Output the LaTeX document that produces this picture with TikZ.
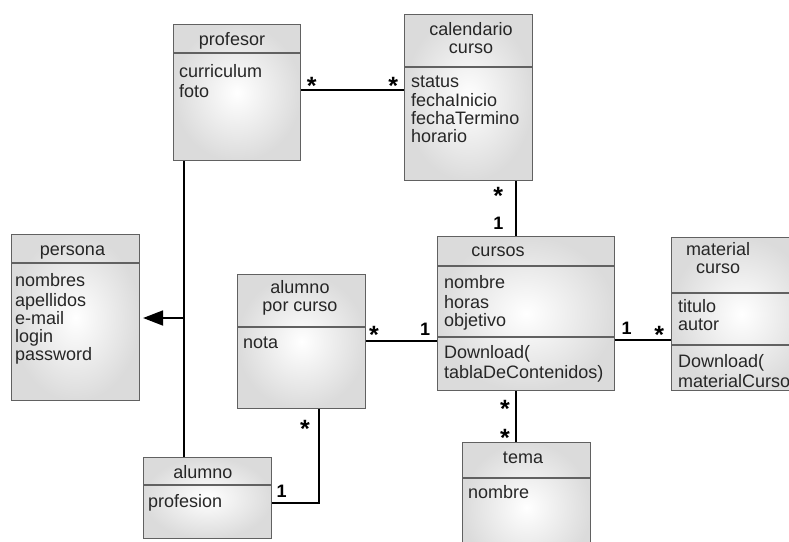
\documentclass[tikz,border=0pt]{standalone}
\usepackage{fontspec}
\setmainfont{Liberation Sans}
\usetikzlibrary{arrows.meta}
\begin{document}
\begin{tikzpicture}[x=1pt,y=-1pt,
  cls/.style={draw=black!62, line width=1.1pt, inner sep=0, anchor=north west, shade, inner color=white, outer color=black!14},
  txt/.style={inner sep=0, font=\fontsize{18}{18}\selectfont, align=left, anchor=north west, text=black!85},
  ttl/.style={inner sep=0, font=\fontsize{18}{18}\selectfont, align=center, anchor=north, text=black!85},
  div/.style={draw=black!62, line width=1.1pt},
  conn/.style={line width=1.8pt, black},
  mult/.style={inner sep=0, font=\fontsize{18}{18}\selectfont\bfseries, text=black},
  star/.style={inner sep=0, font=\fontsize{25}{25}\selectfont\bfseries, text=black, yshift=-6pt}
]
\useasboundingbox (0,0) rectangle (789,541);
\fill[white] (0,0) rectangle (789,541);

% class boxes
\node[cls, minimum width=127pt, minimum height=136pt] (prof) at (173,24) {};
\node[cls, minimum width=128pt, minimum height=166pt] (cal) at (404,14) {};
\node[cls, minimum width=128pt, minimum height=166pt] (persona) at (11,234) {};
\node[cls, minimum width=128pt, minimum height=134pt] (apc) at (237,274) {};
\node[cls, minimum width=177pt, minimum height=154pt] (cursos) at (437,236) {};
\node[cls, minimum width=140pt, minimum height=153pt] (mat) at (671,237) {};
\node[cls, minimum width=128pt, minimum height=130pt] (tema) at (462,442) {};
\node[cls, minimum width=128pt, minimum height=81pt] (alumno) at (143,457) {};

% dividers
\draw[div] (prof.west |- 0,53) -- (prof.east |- 0,53);
\draw[div] (cal.west |- 0,67) -- (cal.east |- 0,67);
\draw[div] (persona.west |- 0,263) -- (persona.east |- 0,263);
\draw[div] (apc.west |- 0,327) -- (apc.east |- 0,327);
\draw[div] (cursos.west |- 0,266) -- (cursos.east |- 0,266);
\draw[div] (cursos.west |- 0,337) -- (cursos.east |- 0,337);
\draw[div] (mat.west |- 0,293) -- (mat.east |- 0,293);
\draw[div] (mat.west |- 0,345) -- (mat.east |- 0,345);
\draw[div] (tema.west |- 0,478) -- (tema.east |- 0,478);
\draw[div] (alumno.west |- 0,485) -- (alumno.east |- 0,485);

% texts
\node[ttl] (prof-t) at (232,32.4) {\strut profesor};
\node[txt] (prof-a) at (179,64.4) {\strut curriculum\\foto};
\node[ttl] (cal-t) at (471,22.4) {\strut calendario\\curso};
\node[txt] (cal-a) at (411,74.4) {\strut status\\fechaInicio\\fechaTermino\\horario};
\node[ttl] (persona-t) at (72.5,242.4) {\strut persona};
\node[txt] (persona-a) at (15,273.4) {\strut nombres\\apellidos\\e-mail\\login\\password};
\node[ttl] (apc-t) at (300,280.4) {\strut alumno\\por curso};
\node[txt] (apc-a) at (243,335.4) {\strut nota};
\node[ttl] (cursos-t) at (498,243.4) {\strut cursos};
\node[txt] (cursos-a) at (444,275.4) {\strut nombre\\horas\\objetivo};
\node[txt] (cursos-m) at (444,345.4) {\strut Download(\\tablaDeContenidos)};
\node[ttl] (mat-t) at (718,242.4) {\strut material\\curso};
\node[txt] (mat-a) at (678,299.4) {\strut titulo\\autor};
\node[txt] (mat-m) at (678,354.4) {\strut Download(\\materialCurso)};
\node[ttl] (tema-t) at (523,450.4) {\strut tema};
\node[txt] (tema-a) at (468,485.4) {\strut nombre};
\node[ttl] (alumno-t) at (203,465.4) {\strut alumno};
\node[txt] (alumno-a) at (148,494.4) {\strut profesion};

% connectors
\coordinate (gen) at (184,318);
\coordinate (bend) at (319,503);
\draw[conn] (prof.south -| gen) -- (alumno.north -| gen);
\draw[conn, -{Triangle[length=20pt,width=15pt]}, shorten >=3pt] (gen) -- (persona.east |- gen);
\draw[conn] (prof.east |- 0,90) -- (cal.west |- 0,90);
\draw[conn] (cal.south -| 516,0) -- (cursos.north -| 516,0);
\draw[conn] (apc.east |- 0,341) -- (cursos.west |- 0,341);
\draw[conn] (cursos.east |- 0,340) -- (mat.west |- 0,340);
\draw[conn] (cursos.south -| 516,0) -- (tema.north -| 516,0);
\draw[conn] (alumno.east |- bend) -- (bend) -- (apc.south -| bend);

% multiplicities
\node[star] (m1) at (311.7,80) {*};
\node[star] (m2) at (393.3,80) {*};
\node[star] (m3) at (498.3,190) {*};
\node[mult] (m4) at (498.3,223) {1};
\node[star] (m5) at (374,329) {*};
\node[mult] (m6) at (425,329) {1};
\node[mult] (m7) at (626.7,328) {1};
\node[star] (m8) at (659.3,329) {*};
\node[star] (m9) at (505,402.7) {*};
\node[star] (m10) at (505,431.7) {*};
\node[star] (m11) at (305,423.3) {*};
\node[mult] (m12) at (281.7,491) {1};
\end{tikzpicture}
\end{document}
